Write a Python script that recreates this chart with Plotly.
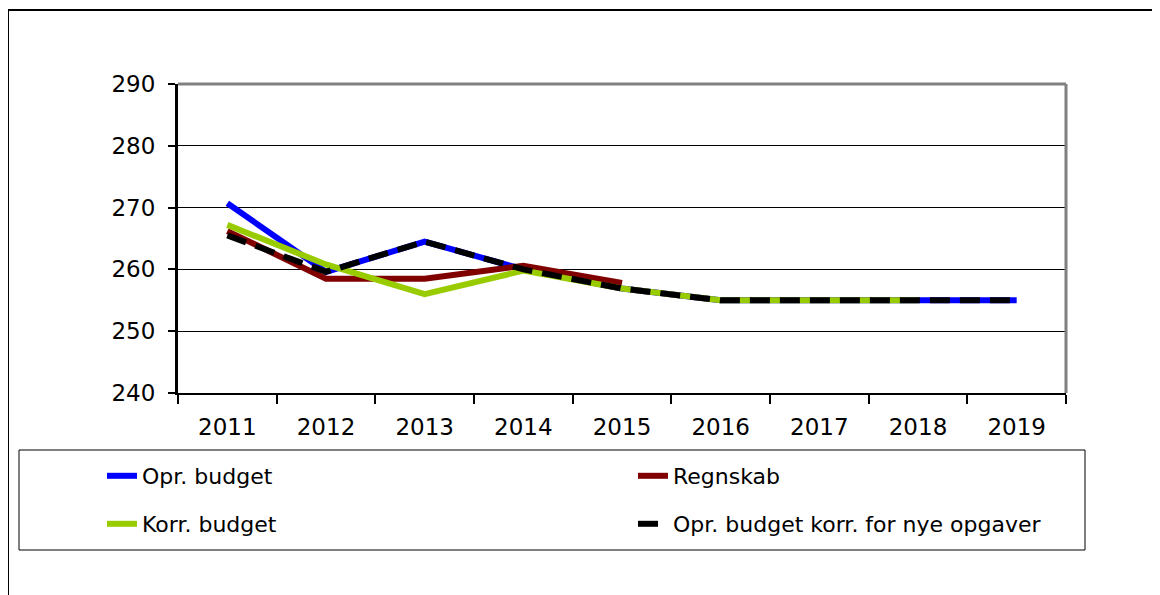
import plotly.graph_objects as go

YEARS = ["2011", "2012", "2013", "2014", "2015", "2016", "2017", "2018", "2019"]

OPR_BUDGET = [270.7, 259.6, 264.5, 260.0, 256.9, 255.0, 255.0, 255.0, 255.0]
REGNSKAB = [266.2, 258.5, 258.5, 260.6, 257.8]
KORR_BUDGET = [267.2, 260.8, 256.0, 259.8, 256.9, 255.0, 255.0, 255.0]
OPR_KORR_NYE = [265.5, 259.6, 264.5, 260.0, 256.9, 255.0, 255.0, 255.0, 255.0]

FONT = "DejaVu Sans"

# the page body adds an 8px margin, so the figure starts at (8, 8) on screen
OFF = 8
W, H = 1160 - OFF, 595 - OFF

# plot area in screen pixels
L, R, T, B = 178, 1066, 84, 393


def px_x(p):
    return (p - L) / (R - L)


def px_y(p):
    return (B - p) / (B - T)


fig = go.Figure()

series = [
    ("Opr. budget", OPR_BUDGET, "#0000FF", "solid", "legend"),
    ("Regnskab", REGNSKAB, "#800000", "solid", "legend2"),
    ("Korr. budget", KORR_BUDGET, "#99CC00", "solid", "legend3"),
    ("Opr. budget korr. for nye opgaver", OPR_KORR_NYE, "#000000", "20px,10px", "legend4"),
]

for name, vals, color, dash, leg in series:
    fig.add_trace(go.Scatter(
        x=YEARS[:len(vals)], y=vals, mode="lines", name=name,
        line=dict(color=color, width=6, dash=dash),
        legend=leg,
    ))

legend_common = dict(
    orientation="h", xanchor="left", yanchor="middle",
    bgcolor="rgba(0,0,0,0)", borderwidth=0,
    font=dict(family=FONT, size=22, color="black"),
)

fig.update_layout(
    width=W, height=H,
    margin=dict(l=L - OFF, r=1160 - R, t=T - OFF, b=595 - B),
    paper_bgcolor="white", plot_bgcolor="white",
    showlegend=True,
    legend=dict(x=px_x(102), y=px_y(476), **legend_common),
    legend2=dict(x=px_x(633), y=px_y(476), **legend_common),
    legend3=dict(x=px_x(102), y=px_y(524), **legend_common),
    legend4=dict(x=px_x(633), y=px_y(524), **legend_common),
    font=dict(family=FONT, size=22, color="black"),
)

fig.update_xaxes(
    type="category", range=[-0.5, 8.5],
    showline=True, linecolor="black", linewidth=2,
    ticks="outside", tickson="boundaries", ticklen=9, tickcolor="black", tickwidth=2,
    showgrid=False, tickfont=dict(family=FONT, size=23),
    ticklabelstandoff=12,
)
fig.update_yaxes(
    range=[240, 290], dtick=10,
    showline=True, linecolor="black", linewidth=3,
    ticks="outside", ticklen=7, tickcolor="black", tickwidth=2,
    showgrid=True, gridcolor="black", gridwidth=1,
    zeroline=False, tickfont=dict(family=FONT, size=23),
    ticklabelstandoff=8,
)

# grey frame on top and right of the plot area
fig.add_shape(type="line", xref="paper", yref="paper", x0=0, x1=1, y0=1, y1=1,
              line=dict(color="#808080", width=3))
fig.add_shape(type="line", xref="paper", yref="paper", x0=1, x1=1, y0=0, y1=1,
              line=dict(color="#808080", width=3))

# legend box
fig.add_shape(type="rect", xref="paper", yref="paper",
              x0=px_x(19), x1=px_x(1085), y0=px_y(450), y1=px_y(550),
              line=dict(color="black", width=1))

# outer frame (top and left edges visible)
fig.add_shape(type="line", xref="paper", yref="paper",
              x0=px_x(8), x1=px_x(1160), y0=px_y(10), y1=px_y(10),
              line=dict(color="black", width=2))
fig.add_shape(type="line", xref="paper", yref="paper",
              x0=px_x(8), x1=px_x(8), y0=px_y(10), y1=px_y(595),
              line=dict(color="black", width=2))

fig.write_html("out.html")
